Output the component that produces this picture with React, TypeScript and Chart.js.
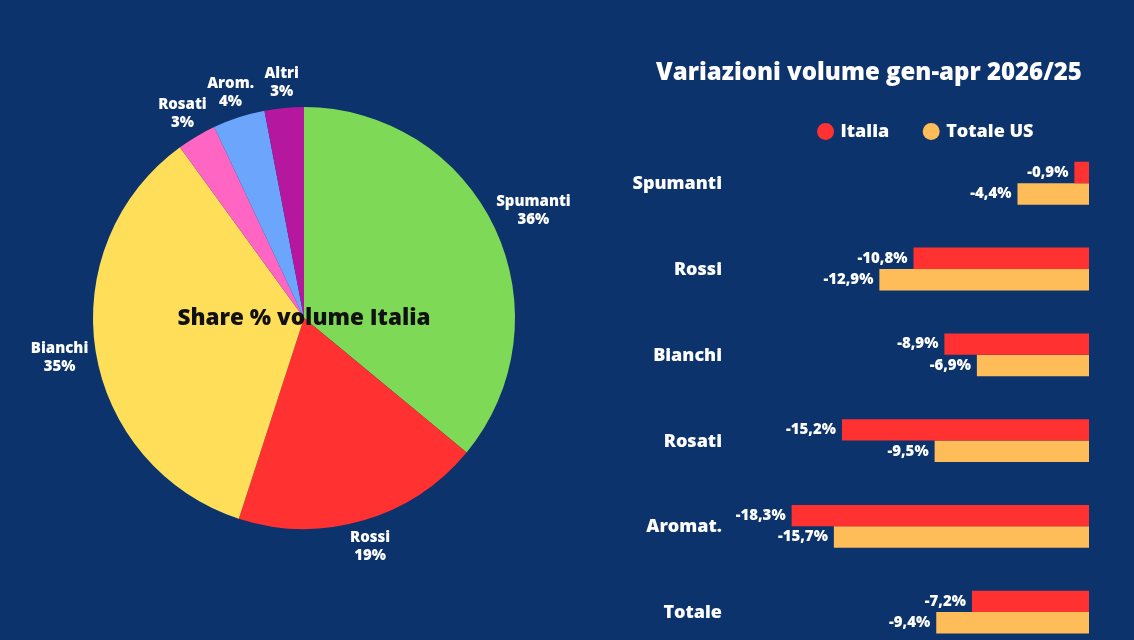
import React, { useEffect, useRef } from "react";
import { Chart, registerables } from "chart.js";

Chart.register(...registerables);

const BG = "#0c336b";
const FONT = "'Open Sans', 'DejaVu Sans', sans-serif";

const pieLabels = ["Spumanti", "Rossi", "Bianchi", "Rosati", "Arom.", "Altri"];
const pieValues = [36, 19, 35, 3, 4, 3];
const pieColors = ["#7ed957", "#ff3131", "#ffde59", "#ff66c4", "#6ca6fc", "#b5179e"];
const pieCenterText = "Share % volume Italia";

const barCategories = ["Spumanti", "Rossi", "Bianchi", "Rosati", "Aromat.", "Totale"];
const italiaValues = [-0.9, -10.8, -8.9, -15.2, -18.3, -7.2];
const totaleUsValues = [-4.4, -12.9, -6.9, -9.5, -15.7, -9.4];
const seriesNames = ["Italia", "Totale US"];
const seriesColors = ["#ff3131", "#ffbd59"];
const barTitle = "Variazioni volume gen-apr 2026/25";

const pieLabelPlugin = {
  id: "pieOuterLabels",
  afterDatasetsDraw(chart: any) {
    const ctx = chart.ctx;
    const meta = chart.getDatasetMeta(0);
    ctx.save();
    ctx.font = `800 15px ${FONT}`;
    ctx.fillStyle = "#ffffff";
    ctx.textAlign = "center";
    ctx.textBaseline = "middle";
    const lh = 18;
    meta.data.forEach((arc: any, i: number) => {
      const p = arc.getProps(["x", "y", "startAngle", "endAngle", "outerRadius"], true);
      const mid = (p.startAngle + p.endAngle) / 2;
      const lines = [pieLabels[i], `${pieValues[i]}%`];
      const w = Math.max(...lines.map((l) => ctx.measureText(l).width));
      const h = lines.length * lh;
      const dx = Math.cos(mid);
      const dy = Math.sin(mid);
      const ext = Math.hypot((dx * w) / 2, (dy * h) / 2);
      const d = p.outerRadius + 8 + ext;
      const cx = p.x + dx * d;
      const cy = p.y + dy * d + 1;
      lines.forEach((l, k) => ctx.fillText(l, cx, cy - h / 2 + lh / 2 + k * lh));
    });
    const a = chart.chartArea;
    ctx.font = `800 22.5px ${FONT}`;
    ctx.fillStyle = "#111111";
    ctx.fillText(pieCenterText, (a.left + a.right) / 2, (a.top + a.bottom) / 2 + 1);
    ctx.restore();
  },
};

const barLabelPlugin = {
  id: "barValueLabels",
  afterDatasetsDraw(chart: any) {
    const ctx = chart.ctx;
    ctx.save();
    ctx.fillStyle = "#ffffff";
    ctx.textBaseline = "middle";
    // value labels at the end of each bar
    ctx.font = `800 15px ${FONT}`;
    ctx.textAlign = "right";
    chart.data.datasets.forEach((ds: any, di: number) => {
      const meta = chart.getDatasetMeta(di);
      meta.data.forEach((bar: any, i: number) => {
        const v = ds.data[i] as number;
        const text = v.toFixed(1).replace(".", ",") + "%";
        ctx.fillText(text, bar.x - 6, bar.y);
      });
    });
    // category labels at the y-axis tick positions (drawn unclipped)
    const y = chart.scales.y;
    ctx.font = `800 18px ${FONT}`;
    ctx.textAlign = "right";
    y.ticks.forEach((_t: any, i: number) => {
      ctx.fillText(String(y.getLabelForValue(i)), y.right - 42, y.getPixelForTick(i) + 1);
    });
    ctx.restore();
  },
};

export default function App() {
  const pieRef = useRef<HTMLCanvasElement>(null);
  const barRef = useRef<HTMLCanvasElement>(null);

  useEffect(() => {
    const pie = new Chart(pieRef.current as HTMLCanvasElement, {
      type: "pie",
      data: {
        labels: pieLabels,
        datasets: [{ data: pieValues, backgroundColor: pieColors, borderWidth: 0 }],
      },
      options: {
        responsive: false,
        animation: false,
        layout: { padding: { left: 93, right: 93, top: 107, bottom: 107 } },
        plugins: { legend: { display: false }, tooltip: { enabled: false } },
      },
      plugins: [pieLabelPlugin],
    });

    const bar = new Chart(barRef.current as HTMLCanvasElement, {
      type: "bar",
      data: {
        labels: barCategories,
        datasets: [
          {
            label: seriesNames[0],
            data: italiaValues,
            backgroundColor: seriesColors[0],
            borderWidth: 0,
            categoryPercentage: 0.5,
            barPercentage: 1.0,
          },
          {
            label: seriesNames[1],
            data: totaleUsValues,
            backgroundColor: seriesColors[1],
            borderWidth: 0,
            categoryPercentage: 0.5,
            barPercentage: 1.0,
          },
        ],
      },
      options: {
        indexAxis: "y",
        responsive: false,
        animation: false,
        layout: { padding: { left: 49, right: 9, top: 0, bottom: 0 } },
        scales: {
          x: { display: false, min: -20, max: 0 },
          y: {
            grid: { display: false, drawTicks: false },
            border: { display: false },
            ticks: { display: false },
            afterFit(scale: any) {
              scale.width = 115;
            },
          },
        },
        plugins: {
          title: {
            display: true,
            text: barTitle,
            color: "#ffffff",
            font: { family: FONT, size: 24, weight: "800" as any, lineHeight: 1.1 },
            padding: { top: 60, bottom: 0 },
          },
          legend: {
            position: "top",
            fullSize: false,
            maxHeight: 54,
            labels: {
              usePointStyle: true,
              pointStyle: "circle",
              boxWidth: 12,
              boxHeight: 12,
              padding: 36,
              color: "#ffffff",
              font: { family: FONT, size: 18, weight: "800" as any },
            },
          },
          tooltip: { enabled: false },
        },
      },
      plugins: [barLabelPlugin],
    });

    return () => {
      pie.destroy();
      bar.destroy();
    };
  }, []);

  return (
    <div
      style={{
        position: "fixed",
        left: 0,
        top: 0,
        width: 1134,
        height: 640,
        background: BG,
        overflow: "hidden",
      }}
    >
      <canvas
        ref={pieRef}
        width={608}
        height={636}
        style={{ position: "absolute", left: 0, top: 0, width: 608, height: 636 }}
      />
      <canvas
        ref={barRef}
        width={498}
        height={655}
        style={{ position: "absolute", left: 600, top: 0, width: 498, height: 655 }}
      />
    </div>
  );
}
